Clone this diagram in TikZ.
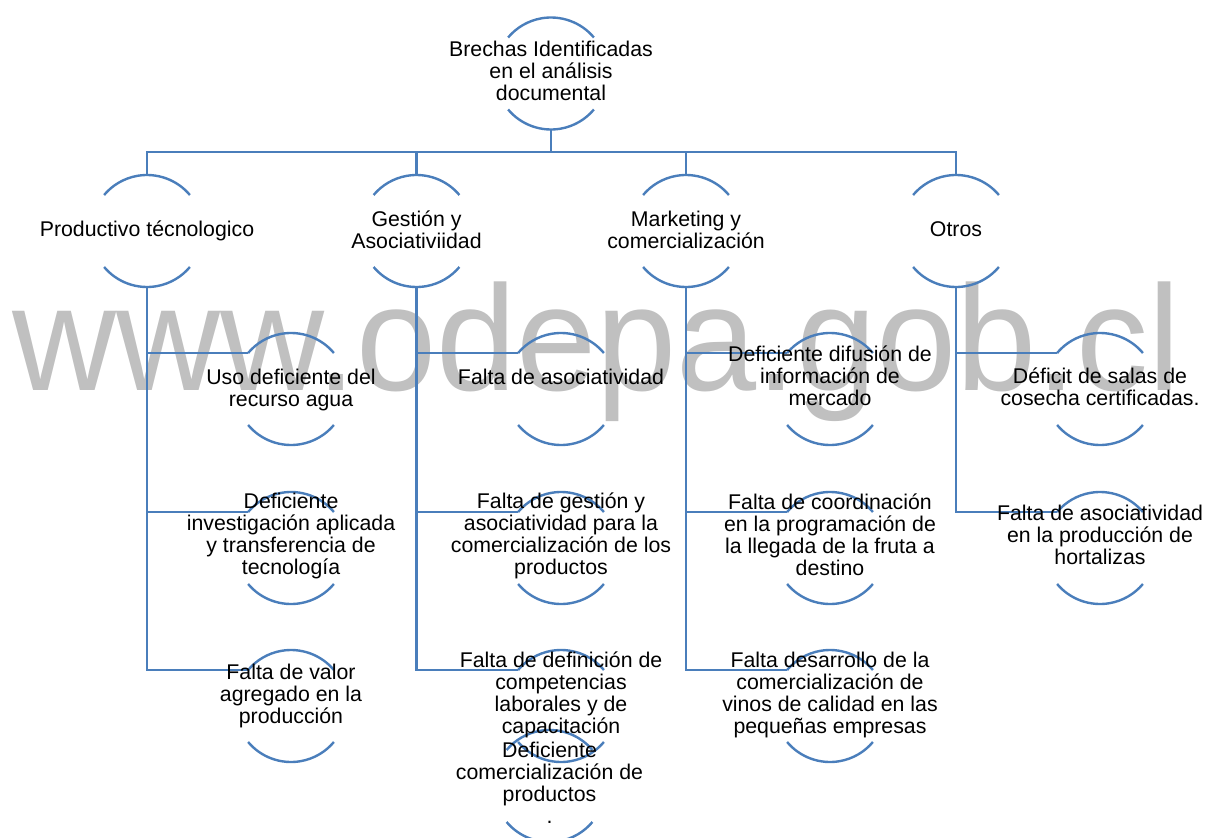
\documentclass[tikz,border=0pt]{standalone}
\usepackage{graphicx}
\usepackage{fontspec}
\setmainfont{Liberation Sans}
\definecolor{lineblue}{HTML}{4A7EBB}
\definecolor{wmgray}{HTML}{C0C0C0}
\begin{document}
\begin{tikzpicture}[x=1pt,y=1pt,
  circ/.style={circle,minimum size=112pt,inner sep=0pt,outer sep=0pt,draw=none},
  txt/.style={align=center,font=\fontsize{21.3}{22}\selectfont,inner sep=0pt,
    execute at begin node=\strut,execute at end node=\strut},
  conn/.style={draw=lineblue,line width=2.4pt},
  arcline/.style={draw=lineblue,line width=2.4pt}]
\useasboundingbox (0,0) rectangle (1206,-837);
% watermark
\node[anchor=base west,inner sep=0pt,text=wmgray,font=\fontsize{150}{150}\selectfont] (wm) at (12,-390) {\scalebox{0.96}[1]{www.odepa.gob.cl}};
% circles
\node[circ] (top) at (551,-73.5) {};
\node[circ] (p1) at (147,-231) {};
\node[circ] (p2) at (416.5,-231) {};
\node[circ] (p3) at (686,-231) {};
\node[circ] (p4) at (956,-231) {};
\node[circ] (c11) at (291,-389) {};
\node[circ] (c12) at (291,-548) {};
\node[circ] (c13) at (291,-706) {};
\node[circ] (c21) at (561,-389) {};
\node[circ] (c22) at (561,-548) {};
\node[circ] (c23) at (561,-706) {};
\node[circ] (c24) at (549.5,-786) {};
\node[circ] (c31) at (830,-389) {};
\node[circ] (c32) at (830,-548) {};
\node[circ] (c33) at (830,-706) {};
\node[circ] (c41) at (1100,-389) {};
\node[circ] (c42) at (1100,-548) {};
\foreach \n in {top,p1,p2,p3,p4,c11,c12,c13,c21,c22,c23,c24,c31,c32,c33,c41,c42}{
  \draw[arcline] (\n.40) arc[start angle=40,end angle=140,radius=56];
  \draw[arcline] (\n.220) arc[start angle=220,end angle=320,radius=56];
}
% connectors
\coordinate (busy) at (0,-152);
\draw[conn] (top.south) -- (top.south |- busy);
\draw[conn] (p1.north) -- (p1.north |- busy) -- (p4.north |- busy) -- (p4.north);
\draw[conn] (p2.north) -- (p2.north |- busy);
\draw[conn] (p3.north) -- (p3.north |- busy);
\draw[conn] (p1.south) |- (c11.140);
\draw[conn] (p1.south) |- (c12.140);
\draw[conn] (p1.south) |- (c13.140);
\draw[conn] (p2.south) |- (c21.140);
\draw[conn] (p2.south) |- (c22.140);
\draw[conn] (p2.south) |- (c23.140);
\draw[conn] (p3.south) |- (c31.140);
\draw[conn] (p3.south) |- (c32.140);
\draw[conn] (p3.south) |- (c33.140);
\draw[conn] (p4.south) |- (c41.140);
\draw[conn] (p4.south) |- (c42.140);
% texts
\node[txt] (ttop) at (551,-74.5) {Brechas Identificadas\\en el análisis\\documental};
\node[txt] (tp1) at (147,-231.6) {Productivo técnologico};
\node[txt] (tp2) at (416.5,-232.6) {Gestión y\\Asociativiidad};
\node[txt] (tp3) at (686,-232.6) {Marketing y\\comercialización};
\node[txt] (tp4) at (956,-231.6) {Otros};
\node[txt] (t11) at (291,-391) {Uso deficiente del\\recurso agua};
\node[txt] (t12) at (291,-537) {Deficiente\\investigación aplicada\\y transferencia de\\tecnología};
\node[txt] (t13) at (291,-697) {Falta de valor\\agregado en la\\producción};
\node[txt] (t21) at (561,-379.6) {Falta de asociatividad};
\node[txt] (t22) at (561,-537) {Falta de gestión y\\asociatividad para la\\comercialización de los\\productos};
\node[txt] (t23) at (561,-695.6) {Falta de definición de\\competencias\\laborales y de\\capacitación};
\node[txt] (t24) at (549.5,-786) {Deficiente\\comercialización de\\productos\\.};
\node[txt] (t31) at (830,-379) {Deficiente difusión de\\información de\\mercado};
\node[txt] (t32) at (830,-538) {Falta de coordinación\\en la programación de\\la llegada de la fruta a\\destino};
\node[txt] (t33) at (830,-695.6) {Falta desarrollo de la\\comercialización de\\vinos de calidad en las\\pequeñas empresas};
\node[txt] (t41) at (1100,-389.6) {Déficit de salas de\\cosecha certificadas.};
\node[txt] (t42) at (1100,-538.5) {Falta de asociatividad\\en la producción de\\hortalizas};
\end{tikzpicture}
\end{document}
